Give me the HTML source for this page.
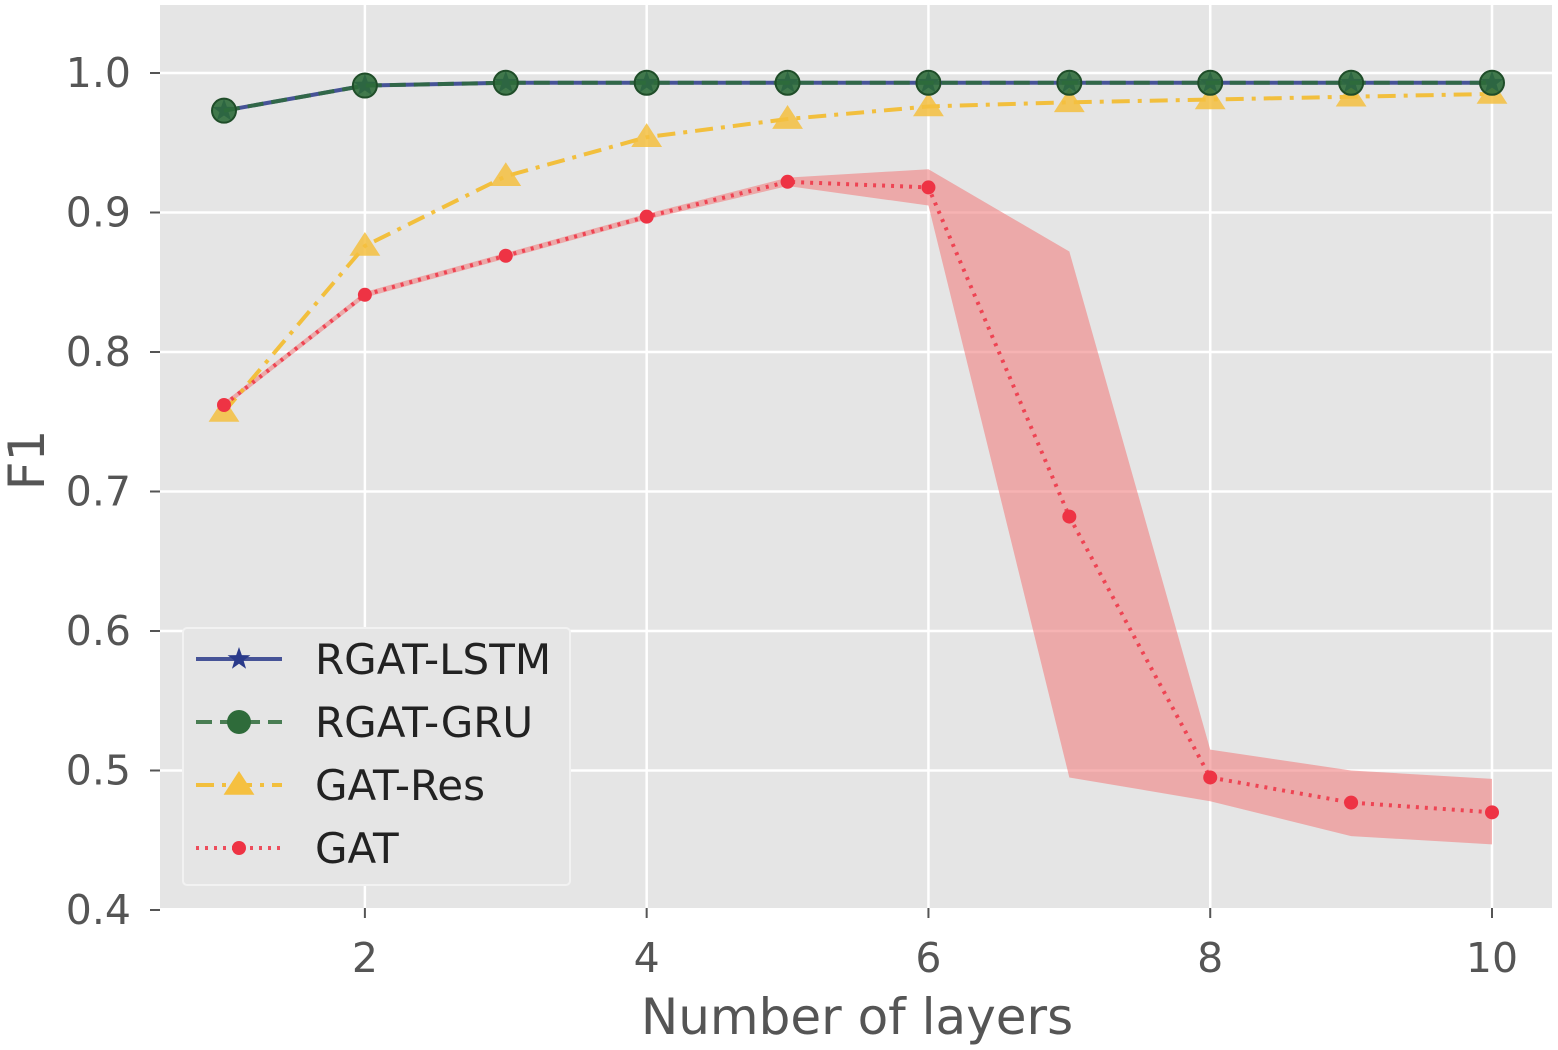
<!DOCTYPE html>
<html><head><meta charset="utf-8"><style>
body{margin:0;background:#fff;}
svg text{font-family:"DejaVu Sans","Liberation Sans",sans-serif;fill:#555;}
</style></head><body>
<svg id="chart" width="1558" height="1045" xmlns="http://www.w3.org/2000/svg">
<rect x="160" y="5" width="1392" height="903" fill="#e5e5e5"/>
<g id="grid"></g><g id="series"></g><g id="axes"></g><g id="legend"></g>
</svg>
<script>
const layers=[1,2,3,4,5,6,7,8,9,10];
const rgatLstm=[0.973,0.991,0.993,0.993,0.993,0.993,0.993,0.993,0.993,0.993];
const rgatGru=[0.973,0.991,0.993,0.993,0.993,0.993,0.993,0.993,0.993,0.993];
const gatRes=[0.757,0.876,0.926,0.954,0.967,0.976,0.979,0.981,0.983,0.985];
const gat=[0.762,0.841,0.869,0.897,0.922,0.918,0.682,0.495,0.477,0.470];
const gatUpper=[0.764,0.843,0.871,0.899,0.925,0.931,0.872,0.515,0.500,0.494];
const gatLower=[0.760,0.839,0.867,0.895,0.919,0.905,0.495,0.478,0.453,0.447];
const xTicks=[2,4,6,8,10];
const yTicks=[0.4,0.5,0.6,0.7,0.8,0.9,1.0];
const NS="http://www.w3.org/2000/svg";
const X=v=>224+(v-1)*(1492-224)/9;
const Y=v=>73+(1.0-v)*(910-73)/0.6;
function mk(tag,attrs,parent){const e=document.createElementNS(NS,tag);for(const k in attrs)e.setAttribute(k,attrs[k]);document.getElementById(parent).appendChild(e);return e;}
xTicks.forEach(t=>{
 const l=mk('line',{x1:X(t),x2:X(t),y1:5,y2:908,stroke:'#fff','stroke-width':2.5},'grid');
 
 
 const tk=mk('line',{x1:X(t),x2:X(t),y1:908,y2:918,stroke:'#555','stroke-width':2},'axes');
 
 
 const tx=mk('text',{x:X(t),y:972,'font-size':41,'text-anchor':'middle'},'axes');tx.textContent=t;
 
 
});
yTicks.forEach(t=>{
 const l=mk('line',{x1:160,x2:1552,y1:Y(t),y2:Y(t),stroke:'#fff','stroke-width':2.5},'grid');
 
 
 const tk=mk('line',{x1:150,x2:160,y1:Y(t),y2:Y(t),stroke:'#555','stroke-width':2},'axes');
 
 
 const tx=mk('text',{x:131,y:Y(t)+14,'font-size':41,'text-anchor':'end'},'axes');tx.textContent=t.toFixed(1);
 
 
});
let xl=mk('text',{x:857,y:1034,'font-size':50,'text-anchor':'middle'},'axes');xl.textContent='Number of layers';


let yl=mk('text',{x:0,y:0,'font-size':50,'text-anchor':'middle',transform:'translate(44,460) rotate(-90)'},'axes');yl.textContent='F1';


let pts=layers.map((l,i)=>X(l)+','+Y(gatUpper[i])).concat(layers.slice().reverse().map((l,j)=>{const i=layers.length-1-j;return X(l)+','+Y(gatLower[i]);}));
let band=mk('polygon',{points:pts.join(' '),fill:'#f08080','fill-opacity':0.6},'series');


function star(cx,cy,r){let p=[];for(let i=0;i<10;i++){const a=-Math.PI/2+i*Math.PI/5;const rr=i%2?r*0.4:r;p.push((cx+rr*Math.cos(a))+','+(cy+rr*Math.sin(a)));}return p.join(' ');}
function tri(cx,cy,r){return `${cx},${cy-r} ${cx-r*1.1},${cy+r*0.7} ${cx+r*1.1},${cy+r*0.7}`;}
function series(vals,name,color,dash,width,marker){
 const line=mk('polyline',{points:layers.map((l,i)=>X(l)+','+Y(vals[i])).join(' '),fill:'none',stroke:color,'stroke-width':width,'stroke-dasharray':dash,'stroke-opacity':0.85},'series');
 
 
 layers.forEach((l,i)=>{
  let m;
  if(marker==='circle')m=mk('circle',{cx:X(l),cy:Y(vals[i]),r:12,fill:'#2e6b3a',stroke:'#1f4d29','stroke-width':2,'fill-opacity':0.9},'series');
  else if(marker==='small')m=mk('circle',{cx:X(l),cy:Y(vals[i]),r:7,fill:'#ee3344'},'series');
  else if(marker==='tri')m=mk('polygon',{points:tri(X(l),Y(vals[i]),14),fill:'#f5c040','fill-opacity':0.85},'series');
  else m=mk('polygon',{points:star(X(l),Y(vals[i]),12),fill:'#2a3a8a'},'series');
  
  
 });
}
series(gatRes,'gat-res','#f5b820','18,8,4,8',4,'tri');
series(gat,'gat','#ee3344','3,6',4,'small');
series(rgatLstm,'rgat-lstm','#2a3a8a','',4,'star');
series(rgatGru,'rgat-gru','#2e6b3a','16,8',4,'circle');
let lb=mk('rect',{x:183,y:628,width:387,height:257,fill:'#e5e5e5',stroke:'#f2f2f2','stroke-width':2,rx:4},'legend');


const names=['RGAT-LSTM','RGAT-GRU','GAT-Res','GAT'];
const lcolors=['#2a3a8a','#2e6b3a','#f5b820','#ee3344'];
const ldash=['','16,8','18,8,4,8','3,6'];
names.forEach((n,i)=>{
 const y=659+i*63;
 const ln=mk('line',{x1:196,x2:282,y1:y,y2:y,stroke:lcolors[i],'stroke-width':4,'stroke-dasharray':ldash[i],'stroke-opacity':0.85},'legend');
 
 
 let m;
 if(i===0)m=mk('polygon',{points:star(239,y,12),fill:'#2a3a8a'},'legend');
 else if(i===1)m=mk('circle',{cx:239,cy:y,r:12,fill:'#2e6b3a'},'legend');
 else if(i===2)m=mk('polygon',{points:tri(239,y,14),fill:'#f5c040'},'legend');
 else m=mk('circle',{cx:239,cy:y,r:7,fill:'#ee3344'},'legend');
 
 
 const t=mk('text',{x:315,y:y+15,'font-size':42},'legend');t.textContent=n;
 t.style.fill='#222';
 
 
});
</script>
</body></html>
